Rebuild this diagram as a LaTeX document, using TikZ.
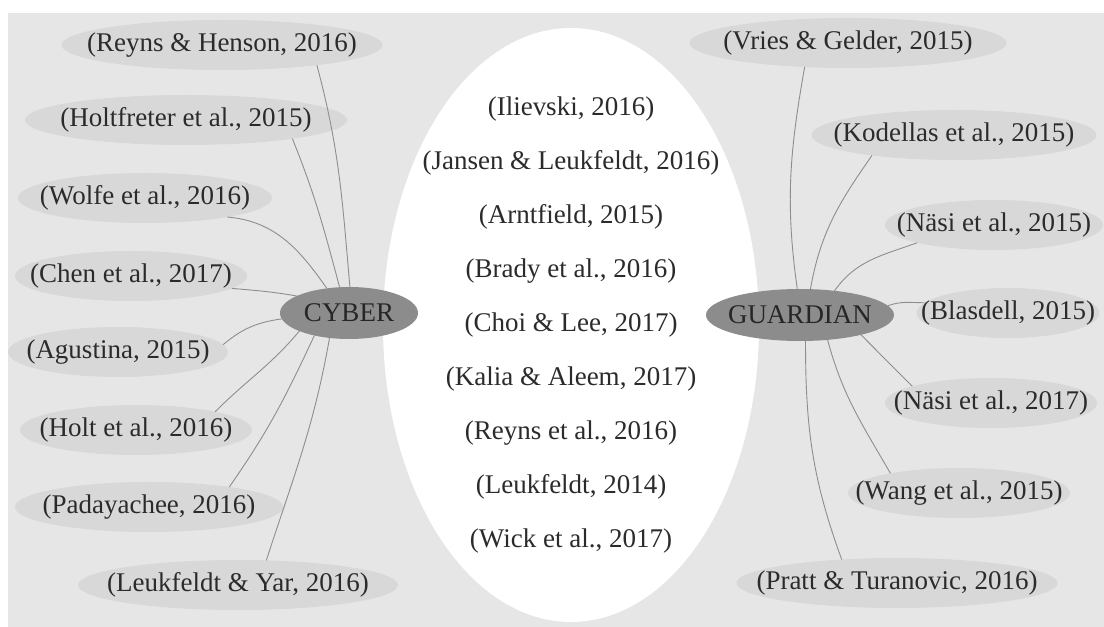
\documentclass[tikz,border=0pt]{standalone}
\usepackage{fontspec}
\setmainfont{Liberation Serif}
\usepackage{tikz}
\usetikzlibrary{shapes.geometric}
\usepackage{xcolor}

\definecolor{bgpanel}{HTML}{E6E6E6}
\definecolor{reffill}{HTML}{D8D8D8}
\definecolor{hubfill}{HTML}{8C8C8C}
\definecolor{linkgray}{HTML}{8E8E8E}
\definecolor{txtgray}{HTML}{2B2B2B}

\begin{document}
\begin{tikzpicture}[x=1pt,y=1pt,
  ref/.style={ellipse, fill=reffill, draw=none, inner xsep=-40pt, inner ysep=-5pt,
    outer sep=0pt, minimum width=#1, minimum height=50, text=txtgray,
    font=\fontsize{27}{32}\selectfont},
  hub/.style={ref=#1, fill=hubfill, minimum height=52, text=black!85},
  link/.style={draw=linkgray, line width=0.9pt}]
  \useasboundingbox (0,0) rectangle (1104,627);
  \fill[bgpanel] (8,0) rectangle (1104,614);

  % middle pool of shared references
  \node[ellipse, fill=white, inner sep=-30pt, outer sep=0pt, minimum width=376,
    minimum height=594, align=center, text=txtgray,
    font=\fontsize{27}{54}\selectfont] (pool) at (571,302)
    {(Ilievski, 2016)\\(Jansen \& Leukfeldt, 2016)\\(Arntfield, 2015)\\
     (Brady et al., 2016)\\(Choi \& Lee, 2017)\\(Kalia \& Aleem, 2017)\\
     (Reyns et al., 2016)\\(Leukfeldt, 2014)\\(Wick et al., 2017)};

  \node[hub=138] (cyber) at (349,314) {CYBER};
  \node[hub=188] (guard) at (800,312) {GUARDIAN};

  % cyber side
  \node[ref=321] (rh) at (222,582) {(Reyns \& Henson, 2016)};
  \node[ref=322] (ho) at (186,507) {(Holtfreter et al., 2015)};
  \node[ref=254] (wo) at (145,429) {(Wolfe et al., 2016)};
  \node[ref=232] (ch) at (131,351) {(Chen et al., 2017)};
  \node[ref=220] (ag) at (118,275) {(Agustina, 2015)};
  \node[ref=232] (ht) at (136,197) {(Holt et al., 2016)};
  \node[ref=268] (pa) at (149,120) {(Padayachee, 2016)};
  \node[ref=320] (ly) at (238,42) {(Leukfeldt \& Yar, 2016)};

  % guardian side
  \node[ref=317] (vg) at (848,584) {(Vries \& Gelder, 2015)};
  \node[ref=285] (ko) at (954,492) {(Kodellas et al., 2015)};
  \node[ref=218] (n1) at (994,402) {(Näsi et al., 2015)};
  \node[ref=183] (bl) at (1008,314) {(Blasdell, 2015)};
  \node[ref=212] (n2) at (991,224) {(Näsi et al., 2017)};
  \node[ref=222] (wa) at (959,134) {(Wang et al., 2015)};
  \node[ref=321] (pt) at (897,44) {(Pratt \& Turanovic, 2016)};

  \draw[link] (rh.-12) to[out=-75,in=95] (cyber.88);
  \draw[link] (ho.-10) to[out=-68,in=105] (cyber.110);
  \draw[link] (wo.-13) to[out=-5,in=125] (cyber.132);
  \draw[link] (ch.-7) to[out=-5,in=170] (cyber.162);
  \draw[link] (ag.4) to[out=40,in=188] (cyber.185);
  \draw[link] (ht.13) to[out=45,in=-130] (cyber.-160);
  \draw[link] (pa.14) to[out=55,in=-115] (cyber.-147);
  \draw[link] (ly.41) to[out=72,in=-100] (cyber.-128);

  \draw[link] (vg.-151) to[out=-100,in=98] (guard.96);
  \draw[link] (ko.-166) to[out=-125,in=80] (guard.68);
  \draw[link] (n1.-167) to[out=-160,in=55] (guard.35);
  \draw[link] (bl.173) to[out=180,in=20] (guard.6);
  \draw[link] (n2.168) to[out=135,in=-45] (guard.-18);
  \draw[link] (wa.164) to[out=120,in=-75] (guard.-42);
  \draw[link] (pt.157) to[out=110,in=-90] (guard.-78);
\end{tikzpicture}
\end{document}
